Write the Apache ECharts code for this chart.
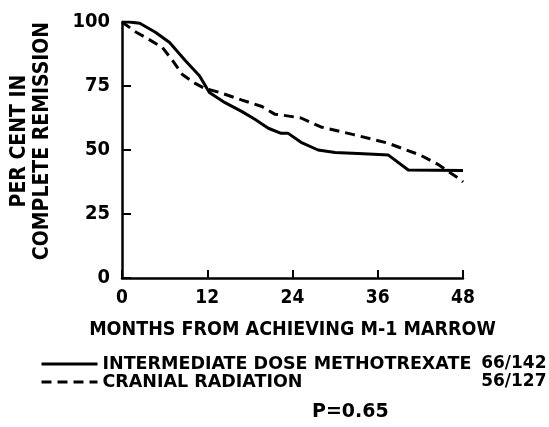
<!DOCTYPE html>
<html>
<head>
<meta charset="utf-8">
<script src="https://cdn.jsdelivr.net/npm/echarts@6/dist/echarts.min.js"></script>
<style>
 html, body { margin: 0; padding: 0; background: #fff; }
 #chart { width: 549px; height: 427px; }
</style>
</head>
<body>
<div id="chart"></div>
<script>
// months, per cent in complete remission
const mtxMonths = [0, 1, 2.5, 4.7, 6.7, 8.9, 10.9, 12.3, 14.5, 16.9, 18.7, 20.6, 22.4, 23.4, 25.2, 27.6, 30, 34, 37.5, 40.3, 48]
const mtxPct = [100, 100, 99.5, 96, 92, 85, 79, 72.5, 68.5, 65, 62, 58.5, 56.5, 56.5, 53, 50, 49, 48.5, 48, 42.2, 42]
const radMonths = [0, 2, 3.3, 5.7, 7.1, 8.5, 10.3, 11.7, 13.7, 16.9, 19.7, 21.5, 22.4, 25.2, 28, 32.6, 37.4, 42, 44.4, 47.6, 48]
const radPct = [100, 96, 94, 90, 85, 79.5, 76, 74, 72.5, 69.5, 67, 64, 63.7, 62.5, 59, 56, 52.7, 48, 44.5, 38.5, 37.5]
const seriesNames = ['INTERMEDIATE DOSE METHOTREXATE', 'CRANIAL RADIATION']
const seriesCounts = ['66/142', '56/127']

const font = '"DejaVu Sans Condensed", "Liberation Sans", sans-serif'
const legendFont = '"DejaVu Sans", sans-serif'
const zip = (xs, ys) => xs.map((x, i) => [x, ys[i]])

const chart = echarts.init(document.getElementById('chart'))
chart.setOption({
 animation: false,
 textStyle: { fontFamily: font, fontWeight: 'bold', color: '#000' },
 grid: { left: 119, right: 86, top: 22, bottom: 149 },
 legend: {
  orient: 'vertical',
  left: 40,
  top: 355,
  padding: 0,
  itemWidth: 56,
  itemHeight: 14,
  itemGap: 0,
  itemStyle: { opacity: 0 },
  lineStyle: { width: 3 },
  data: seriesNames,
  formatter: name => {
   const i = seriesNames.indexOf(name)
   return '{a|' + name + '}{b|' + seriesCounts[i] + '}'
  },
  textStyle: {
   color: '#000',
   lineHeight: 16,
   rich: {
    a: { fontFamily: legendFont, fontWeight: 'bold', fontSize: 17.5, color: '#000', width: 382, lineHeight: 16 },
    b: { fontFamily: legendFont, fontWeight: 'bold', fontSize: 17, color: '#000', width: 62, align: 'right', lineHeight: 16 }
   }
  }
 },
 graphic: [{
  type: 'text',
  left: 312,
  top: 403,
  style: { text: 'P=0.65', font: 'bold 19px "DejaVu Sans", sans-serif', fill: '#000' }
 }],
 xAxis: {
  type: 'value',
  min: 0, max: 48, interval: 12,
  name: 'MONTHS FROM ACHIEVING M-1 MARROW',
  nameLocation: 'middle',
  nameGap: 42,
  nameTextStyle: { fontSize: 19.5, fontWeight: 'bold', fontFamily: font, color: '#000' },
  axisLine: { lineStyle: { color: '#000', width: 2.5 } },
  axisTick: { inside: true, length: 8, lineStyle: { color: '#000', width: 2 } },
  axisLabel: { fontSize: 19, fontWeight: 'bold', fontFamily: font, color: '#000', margin: 11 },
  splitLine: { show: false }
 },
 yAxis: {
  type: 'value',
  min: 0, max: 100, interval: 25,
  name: 'PER CENT IN\nCOMPLETE REMISSION',
  nameLocation: 'middle',
  nameRotate: 90,
  nameGap: 68,
  nameTextStyle: { fontSize: 21, fontWeight: 'bold', fontFamily: font, color: '#000', lineHeight: 23, padding: [0, 0, 0, 18] },
  axisLine: { show: true, lineStyle: { color: '#000', width: 2.5 } },
  axisTick: { show: true, inside: true, length: 9, lineStyle: { color: '#000', width: 2 } },
  axisLabel: { fontSize: 20, fontWeight: 'bold', fontFamily: font, color: '#000', margin: 12 },
  splitLine: { show: false }
 },
 series: [
  {
   name: seriesNames[0], type: 'line', showSymbol: false, symbol: 'none',
   data: zip(mtxMonths, mtxPct),
   lineStyle: { color: '#000', width: 3 },
   itemStyle: { color: '#000' }
  },
  {
   name: seriesNames[1], type: 'line', showSymbol: false, symbol: 'none',
   data: zip(radMonths, radPct),
   lineStyle: { color: '#000', width: 3, type: [10, 6] },
   itemStyle: { color: '#000' }
  }
 ]
})
</script>
</body>
</html>
